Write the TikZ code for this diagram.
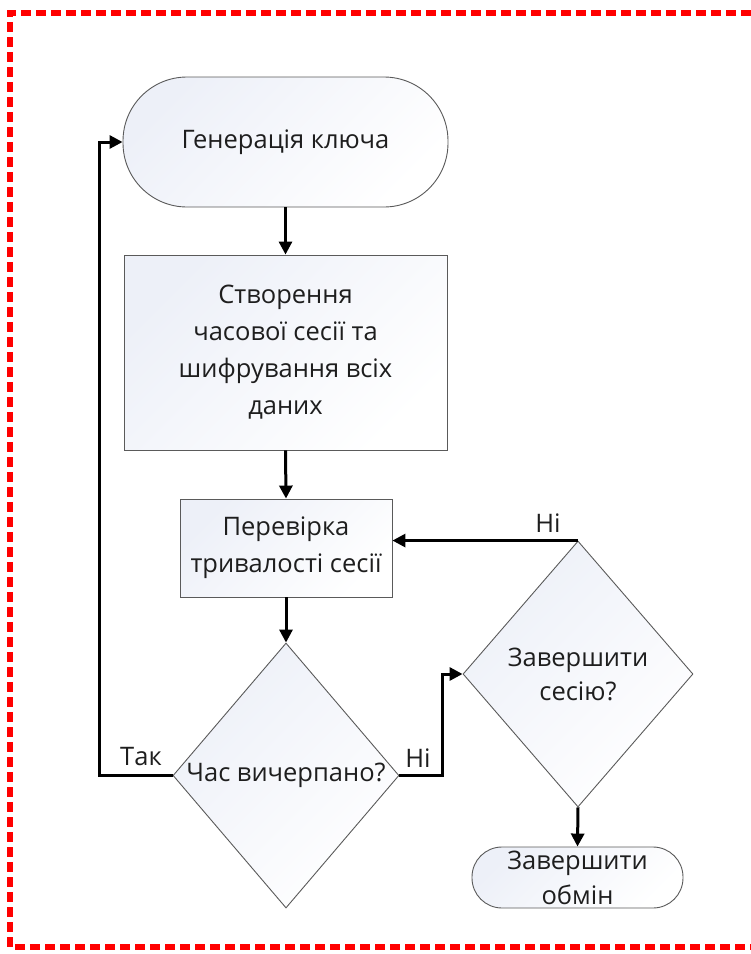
\documentclass[tikz,border=0pt]{standalone}
\usepackage{fontspec}
\setmainfont{Open Sans}
\usetikzlibrary{arrows.meta,shapes.geometric}
\definecolor{txt}{HTML}{1E1E1E}
\definecolor{edge}{HTML}{5A5A5A}
\definecolor{shadeA}{HTML}{EDF0F8}
\definecolor{frame}{HTML}{FF0000}
\begin{document}
\begin{tikzpicture}[x=1pt,y=-1pt,
  base/.style={draw=edge,line width=0.9pt,text=txt,font=\fontsize{25.5}{37}\selectfont,
     align=center,inner sep=0pt,left color=shadeA,right color=white,shading angle=45},
  term/.style={base,rectangle,rounded corners=#1},
  boxnode/.style={base,rectangle},
  decide/.style={base,diamond},
  lbl/.style={text=txt,font=\fontsize{25.5}{30}\selectfont,inner sep=0pt},
  arr/.style={line width=3pt,-{Triangle[length=13pt,width=13pt]}}]
\useasboundingbox (0,0) rectangle (751,954);
\draw[frame,line width=5.5pt,dash pattern=on 10pt off 5pt] (751,13) -- (10,13) -- (10,947) -- (751,947);

\node[term=64, minimum width=325pt, minimum height=130pt] (gen) at (285.5,142) {Генерація ключа};
\node[boxnode, minimum width=323pt, minimum height=195pt] (enc) at (285.5,352.5)
  {Створення\\часової сесії та\\шифрування всіх\\даних};
\node[boxnode, minimum width=212pt, minimum height=98pt] (chk) at (286,548)
  {Перевірка\\тривалості сесії};
\node[decide, minimum width=226pt, minimum height=265pt] (d1) at (286,775.5) {Час вичерпано?};
\node[decide, minimum width=230pt, minimum height=266pt, font=\fontsize{25.5}{34}\selectfont] (d2) at (578,674) {Завершити\\сесію?};
\node[term=30, minimum width=211pt, minimum height=61pt, font=\fontsize{25.5}{35}\selectfont] (fin) at (577.5,877.5) {Завершити\\обмін};

\draw[arr] (gen.south) -- (enc.north);
\draw[arr] (enc.south) -- (chk.north);
\draw[arr] (chk.south) -- (d1.north);
\draw[arr] (d1.west) -- ++(-73,0) |- (gen.west);
\draw[arr] (d1.east) -- ++(43,0) |- (d2.west);
\draw[arr] (d2.north) -- (d2.north -| chk.east);
\draw[arr] (d2.south) -- (fin.north);

\node[lbl] (yes1) at (141,757) {Так};
\node[lbl] (no1) at (418,758) {Ні};
\node[lbl] (no2) at (548,523) {Ні};
\end{tikzpicture}
\end{document}
